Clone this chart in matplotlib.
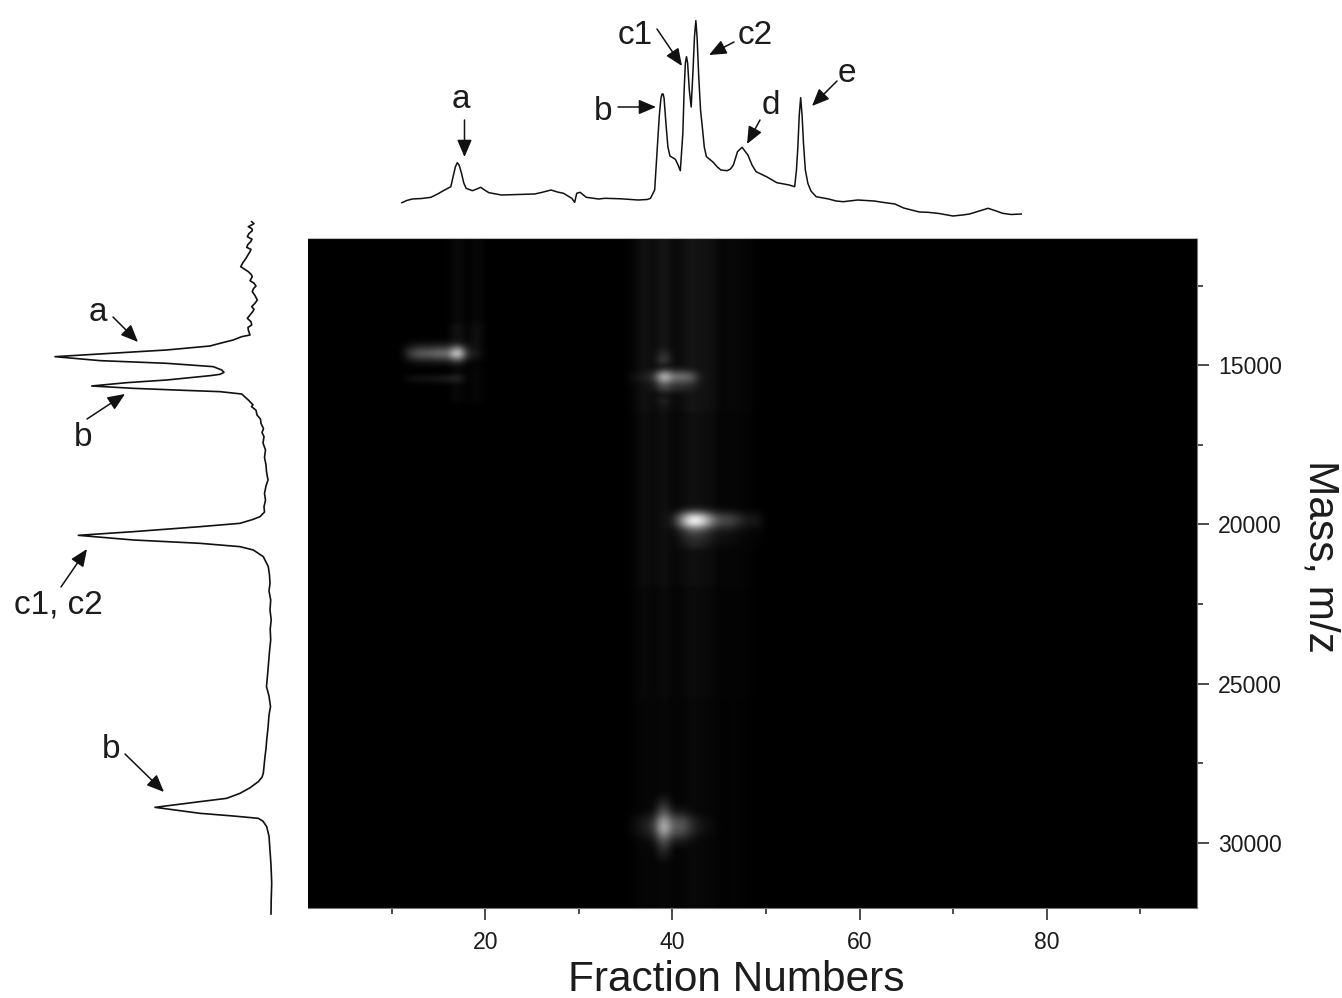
import numpy as np
import matplotlib.pyplot as plt

plt.rcParams['font.family'] = ['Liberation Sans', 'DejaVu Sans']

W, H = 1342, 998
ink = '#1c1c1c'

# top trace: fraction number / intensity
top_fraction = [11.09, 11.6, 12.20, 13.2, 14.19, 15.0, 15.52, 16.32, 16.55, 16.8, 17.0, 17.2, 17.45, 17.7, 17.95, 18.62,
                19.1, 19.50, 20.0, 20.39, 21.72, 23.5, 25.26, 26.0, 27.03, 27.7, 28.36, 29.24, 29.55, 29.77, 30.13,
                30.79, 32.12, 32.78, 34.5, 36.33, 37.3, 37.65, 38.10, 38.41, 38.6, 38.76, 38.88, 39.0, 39.1, 39.3,
                39.51, 39.73, 40.31, 40.6, 40.84, 41.11, 41.25, 41.38, 41.5, 41.62, 41.8, 42.0, 42.2, 42.35, 42.5,
                42.63, 42.8, 43.0, 43.19, 43.4, 43.63, 44.29, 44.8, 45.18, 45.84, 46.2, 46.51, 46.95, 47.44, 48.06,
                48.5, 48.94, 50.05, 51.16, 52.48, 53.06, 53.25, 53.4, 53.55, 53.7, 53.85, 54.0, 54.2, 54.47, 54.8,
                55.36, 56.69, 57.5, 58.24, 59.79, 61.56, 62.6, 63.77, 64.7, 65.54, 66.4, 67.31, 68.5, 69.97, 71.0,
                71.74, 73.73, 74.6, 75.28, 76.2, 77.27]
top_intensity = [12.3, 14.5, 16, 16.5, 17.7, 21.5, 24.3, 28.3, 38, 48, 52.3, 50, 42, 32, 26.7, 24.3,
                 26, 27.7, 24.5, 22.3, 20, 20.5, 21, 22.5, 25, 23, 21.7, 16.7, 12.7, 21.7, 22.7,
                 17.7, 16, 16.7, 16.2, 15, 15.5, 16.7, 25, 71.7, 100, 116, 121, 121, 117, 92,
                 68.3, 59, 55.7, 50, 44.3, 81.7, 125, 152, 158.3, 152, 125, 108, 145, 178, 194.3,
                 178, 140, 105, 88, 68, 58.3, 53.3, 48, 45, 44.3, 46, 50, 63.3, 67.7, 60,
                 50, 43.3, 38.3, 32.3, 30, 28.3, 45, 68, 100, 117.3, 100, 72, 45, 31.7, 24,
                 18.3, 16, 14, 13.3, 15, 14, 12.5, 11, 7, 5, 3, 2.7, 1.5, -1, 0,
                 1, 6.7, 4, 1.7, 0.5, 1]

# left trace: mass / intensity
left_mass = [10497, 10560, 10655, 10720, 10780, 10870, 10969, 11050, 11126, 11210, 11304, 11370, 11440, 11540, 11649, 11780,
             11911, 12068, 12150, 12225, 12351, 12430, 12518, 12600, 12696, 12820, 12958, 13060, 13167, 13250, 13324, 13430,
             13534, 13640, 13743, 13820, 13900, 14057, 14110, 14214, 14319, 14403, 14528, 14654, 14738, 14863, 14947,
             15052, 15157, 15230, 15293, 15335, 15471, 15555, 15659, 15733, 15795, 15837, 15911, 16099, 16250, 16308, 16420,
             16570, 16700, 16832, 17000, 17120, 17251, 17450, 17669, 17900, 18141, 18350, 18612, 18800, 19031, 19250, 19449,
             19620, 19763, 19850, 19973, 20078, 20235, 20350, 20496, 20601, 20706, 20810, 21020, 21334, 21600, 21858, 22100,
             22381, 22700, 23000, 23300, 23637, 24000, 24475, 24750, 25103, 25400, 25731, 26000, 26400, 26778, 27050, 27302,
             27600, 27825, 27950, 28087, 28280, 28454, 28611, 28715, 28894, 29082, 29166, 29239, 29330, 29501, 29800, 30234,
             30700, 31281, 31800, 32244]
left_intensity = [48.3, 46, 51.7, 48, 47.7, 51, 52.7, 48, 49.3, 52, 53.3, 49, 50, 52, 54, 57,
                  59.3, 51.7, 49, 47.7, 50, 46, 44, 46.5, 47.7, 45, 42.7, 45, 48.3, 46, 47.3, 50,
                  52.7, 49, 48.3, 52, 51.7, 50, 58.3, 66.7, 80, 90, 133.3, 200, 245, 200, 133.3,
                  86.7, 78.3, 76, 80, 90, 133.3, 173.3, 208.3, 166.7, 116.7, 80, 58.3, 51.7, 47, 48.5, 44,
                  43, 39.5, 39, 36.5, 38, 36, 37, 34.5, 35.5, 34, 33.5, 32, 34, 35.5, 34.5, 36,
                  35.5, 40, 47, 60, 100, 166.7, 221.7, 166.7, 100, 60, 46.7, 36.7, 31.7, 30.5, 30, 31,
                  29.3, 30, 28.8, 29.8, 29.3, 30.5, 31.7, 32.5, 33.5, 31, 29.5, 31, 32, 33.3, 34, 35,
                  36, 36.7, 38, 41.7, 50, 60, 73.3, 100, 145, 100, 66.7, 41.7, 37, 33.3, 31, 30,
                  29, 28.3, 28.8, 29]

# heat map bands: columns with their level, rows with their weight
a_cols = [12, 13, 14, 15, 16, 17, 18, 19]
a_vals = [0.25, 0.36, 0.36, 0.44, 0.40, 1.0, 0.14, 0.11]
a_mass = [14250, 14375, 14500, 14625, 14750, 14875, 15000]
a_wts = [0.1, 0.32, 0.72, 1, 0.72, 0.3, 0.08]

a2_cols = [12, 13, 14, 15, 16, 17]
a2_vals = [0.06, 0.07, 0.08, 0.09, 0.11, 0.17]
a2_mass = [15375, 15500]
a2_wts = [1, 0.7]

b_cols = [36, 37, 38, 39, 40, 41, 42, 43]
b_vals = [0.08, 0.13, 0.2, 0.85, 0.45, 0.45, 0.38, 0.08]
b_mass = [15000, 15125, 15250, 15375, 15500, 15625, 15750, 15875, 16000]
b_wts = [0.08, 0.3, 0.75, 1, 0.75, 0.45, 0.35, 0.15, 0.05]

b_tail_cols = [39]
b_tail_vals = [0.3]
b_tail_mass = [14500, 14625, 14750, 14875, 16125, 16250]
b_tail_wts = [0.5, 0.7, 0.9, 1, 0.6, 0.4]

c_cols = [39, 40, 41, 42, 43, 44, 45, 46, 47, 48, 49]
c_vals = [0.07, 0.1, 0.55, 1.0, 0.92, 0.55, 0.28, 0.28, 0.18, 0.09, 0.09]
c_mass = [19500, 19625, 19750, 19875, 20000, 20125, 20250, 20375, 20500, 20625, 20750]
c_wts = [0.15, 0.45, 0.85, 1, 0.85, 0.5, 0.3, 0.22, 0.18, 0.15, 0.1]

d_cols = [39]
d_vals = [0.82]
d_mass = [28500, 28625, 28750, 28875, 29000, 29125, 29250, 29375, 29500,
          29625, 29750, 29875, 30000, 30125, 30250, 30375, 30500]
d_wts = [0.08, 0.16, 0.25, 0.36, 0.48, 0.62, 0.8, 0.95, 1,
         0.94, 0.75, 0.58, 0.44, 0.34, 0.25, 0.18, 0.12]

d_side_cols = [36, 37, 38, 40, 41, 42, 43, 44]
d_side_vals = [0.05, 0.12, 0.2, 0.34, 0.36, 0.17, 0.07, 0.05]
d_side_mass = [28875, 29000, 29125, 29250, 29375, 29500, 29625, 29750, 29875, 30000, 30125]
d_side_wts = [0.12, 0.25, 0.5, 0.78, 0.95, 1, 0.9, 0.7, 0.45, 0.25, 0.12]

# faint vertical streaks
streak_cols = [36, 37, 38, 39, 40, 41, 42, 43, 44, 45, 46, 47, 48]
streak_vals = [0.03, 0.08, 0.03, 0.1, 0.03, 0.05, 0.09, 0.07, 0.07, 0.02, 0.03, 0.03, 0.02]
streak_from = [11000, 16500, 22000, 25500]
streak_to = [16500, 22000, 25500, 32125]
streak_wts = [1.0, 0.75, 0.5, 0.4]

early_cols = [17, 19]
early_vals = [0.07, 0.06]
early_from = [11000, 13750, 15125]
early_to = [13750, 14500, 16250]
early_wts = [0.7, 1.4, 0.6]

x_major = [20, 40, 60, 80]
x_minor = [10, 30, 50, 70, 90]
y_major = [15000, 20000, 25000, 30000]
y_minor = [12500, 17500, 22500, 27500]

label_text = ['a', 'b', 'c1', 'c2', 'd', 'e', 'a', 'b', 'c1, c2', 'b']
label_x = [461, 603, 635, 755, 771, 847, 98, 83, 58, 111]
label_y = [100, 112, 35, 36, 106, 73, 313, 437, 605, 749]

arrow_x0 = [464.5, 618, 657, 734, 760, 837, 113, 87, 61, 125]
arrow_y0 = [120, 107, 29, 42, 120, 81, 317, 419, 587, 754]
arrow_x1 = [464.5, 656, 682, 709, 747, 812, 138, 125, 87, 164]
arrow_y1 = [157, 107, 66, 55, 144, 106, 342, 394, 549, 792]

mass_rows = np.arange(11000, 32126, 125)
fractions = np.arange(1, 97)
grid = np.zeros((len(mass_rows), len(fractions)))


def add_band(cols, vals, masses, wts):
    for c, v in zip(cols, vals):
        for m, w in zip(masses, wts):
            r = int((m - 11000) / 125)
            grid[r, c - 1] = max(grid[r, c - 1], v * w)


def add_streak(cols, vals, starts, ends, wts):
    for c, v in zip(cols, vals):
        for s, e, w in zip(starts, ends, wts):
            rows = (mass_rows >= s) & (mass_rows < e)
            grid[rows, c - 1] = np.maximum(grid[rows, c - 1], v * w)


add_streak(streak_cols, streak_vals, streak_from, streak_to, streak_wts)
add_streak(early_cols, early_vals, early_from, early_to, early_wts)
add_band(a_cols, a_vals, a_mass, a_wts)
add_band(a2_cols, a2_vals, a2_mass, a2_wts)
add_band(b_tail_cols, b_tail_vals, b_tail_mass, b_tail_wts)
add_band(b_cols, b_vals, b_mass, b_wts)
add_band(c_cols, c_vals, c_mass, c_wts)
add_band(d_cols, d_vals, d_mass, d_wts)
add_band(d_side_cols, d_side_vals, d_side_mass, d_side_wts)


def box(x0, y0, x1, y1):
    # pixel box from the top left corner to figure fractions
    return [x0 / W, 1 - y1 / H, (x1 - x0) / W, (y1 - y0) / H]


fig = plt.figure(figsize=(W / 100, H / 100), dpi=100, facecolor='white')

ax = fig.add_axes(box(307.5, 238, 1196.5, 908))
ax.imshow(grid, cmap='gray', vmin=0, vmax=1, aspect='auto', interpolation='bicubic',
          extent=[0.5, 96.5, 32187.5, 10937.5])
ax.set_xlim(1, 96)
ax.set_ylim(32050, 11000)
ax.set_xticks(x_major)
ax.set_xticks(x_minor, minor=True)
ax.set_yticks(y_major)
ax.set_yticks(y_minor, minor=True)
ax.yaxis.tick_right()
ax.tick_params(which='major', length=8.6, width=1.1, color=ink, labelsize=16.6, labelcolor=ink, pad=6)
ax.tick_params(axis='x', which='major', pad=8)
ax.tick_params(axis='y', which='major', pad=7)
ax.tick_params(which='minor', length=4.6, width=1.1, color=ink)
for s in ax.spines.values():
    s.set_linewidth(0.8)
    s.set_color('#777777')
ax.spines['left'].set_visible(False)
ax.spines['top'].set_color('#bbbbbb')
fig.text(736 / W, 1 - 980 / H, 'Fraction Numbers', fontsize=30.5, color=ink, ha='center', va='center')
fig.text(1320 / W, 1 - 556 / H, 'Mass, m/z', rotation=270, fontsize=30.5, color=ink, ha='center', va='center')

# top trace shares the fraction scale with the heat map
ax_top = fig.add_axes(box(307.5, 0, 1196.5, 220))
ax_top.plot(top_fraction, top_intensity, color='#111111', lw=1.1)
ax_top.set_xlim(1, 96)
ax_top.set_ylim(-5, 215)
ax_top.axis('off')

# left trace shares the mass scale, runs a bit above the map
ax_left = fig.add_axes(box(0, 215, 300, 925))
ax_left.plot(left_intensity, left_mass, color='#111111', lw=1.2)
ax_left.set_xlim(300, 0)
ax_left.set_ylim(15000 + (925 - 365) * 31.41, 15000 + (215 - 365) * 31.41)
ax_left.axis('off')

for t, x, y in zip(label_text, label_x, label_y):
    fig.text(x / W, 1 - y / H, t, fontsize=24, color=ink, ha='center', va='center')

for x0, y0, x1, y1 in zip(arrow_x0, arrow_y0, arrow_x1, arrow_y1):
    fig.add_artist(plt.Annotation('', xy=(x1 / W, 1 - y1 / H), xytext=(x0 / W, 1 - y0 / H),
                                  xycoords='figure fraction', textcoords='figure fraction',
                                  arrowprops=dict(arrowstyle='-|>,head_length=0.75,head_width=0.32',
                                                  mutation_scale=14, lw=1.1, color='#111111',
                                                  shrinkA=0, shrinkB=0)))

fig.savefig('out.png', dpi=100)
